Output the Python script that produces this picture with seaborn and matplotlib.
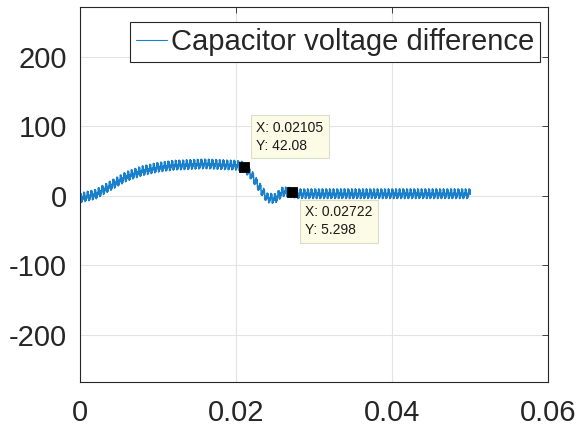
import numpy as np
import pandas as pd
import matplotlib
matplotlib.use("Agg")
import matplotlib.pyplot as plt
import seaborn as sns

# slow trend of the capacitor voltage difference
trend_t = [0.000, 0.002, 0.004, 0.006, 0.008, 0.010, 0.012, 0.014, 0.016, 0.018,
           0.020, 0.021, 0.022, 0.023, 0.024, 0.025, 0.026, 0.027, 0.028, 0.030,
           0.035, 0.040, 0.045, 0.050]
trend_v = [-3, 2, 15, 28, 36, 41, 44, 45, 46, 45,
           44, 42, 30, 12, -3, -4, 6, 5, 3, 3,
           3, 3, 3, 3]
# one switching-ripple cycle (period ~0.47 ms), jagged offsets
ripple_cycle = [0, 7, 2, 6, -1, -7, -2, -6, 1, -3]
ripple_period = 0.00047

# data tips
tip_x = [0.02105, 0.02722]
tip_y = [42.08, 5.298]
tip_labels = ["X: 0.02105\nY: 42.08", "X: 0.02722\nY: 5.298"]

series_name = "Capacitor voltage difference"
x_ticks = [0, 0.02, 0.04, 0.06]
x_ticklabels = ["0", "0.02", "0.04", "0.06"]
y_ticks = [-200, -100, 0, 100, 200]

# build the dense sampled waveform
dt = ripple_period / len(ripple_cycle)
t = np.arange(0, 0.05 + dt / 2, dt)
base = np.interp(t, trend_t, trend_v)
rip = np.resize(np.array(ripple_cycle, dtype=float), len(t))
df = pd.DataFrame({"t": t, "v": base + rip})

sns.set_style("white")
plt.rcParams["font.family"] = ["Liberation Sans", "DejaVu Sans"]
plt.rcParams["axes.unicode_minus"] = False

fig = plt.figure(figsize=(5.82, 4.32), dpi=100)
ax = fig.add_axes([0.137, 0.116, 0.805, 0.868])

line_color = "#1a80cc"
sns.lineplot(data=df, x="t", y="v", ax=ax, color=line_color, linewidth=1.1,
             label=series_name, estimator=None, sort=False)

ax.set_xlim(0, 0.06)
ax.set_ylim(-268, 272)
ax.set_xticks(x_ticks)
ax.set_xticklabels(x_ticklabels)
ax.set_yticks(y_ticks)
ax.set_xlabel("")
ax.set_ylabel("")
ax.grid(True, color="#e3e3e3", linewidth=0.8)
ax.set_axisbelow(True)
for s in ax.spines.values():
    s.set_color("#262626")
    s.set_linewidth(0.8)
    s.set_visible(True)
ax.tick_params(axis="both", direction="in", length=4, width=0.6, color="#262626",
               labelsize=21, labelcolor="#262626", top=True, right=True)
ax.tick_params(axis="x", pad=12)
ax.tick_params(axis="y", pad=9)

leg = ax.legend(loc="upper right", bbox_to_anchor=(540 / 582, 1 - 22 / 432),
                bbox_transform=fig.transFigure, fontsize=21, frameon=True,
                fancybox=False, framealpha=1, edgecolor="#262626",
                handlelength=1.05, handletextpad=0.15, borderpad=0.2,
                borderaxespad=0)
leg.get_frame().set_linewidth(0.8)
for h in leg.get_lines():
    h.set_linewidth(0.8)

# data tip markers and boxes
sns.scatterplot(x=tip_x, y=tip_y, ax=ax, marker="s", s=55, color="black",
                edgecolor="black", zorder=5, legend=False)
offsets = [((12, 14), "left", "bottom"), ((13, -13), "left", "top")]
for (xx, yy, lab, (off, ha, va)) in zip(tip_x, tip_y, tip_labels, offsets):
    ax.annotate(lab, xy=(xx, yy), xytext=off, textcoords="offset pixels",
                ha=ha, va=va, fontsize=10, color="#1a1a1a", linespacing=1.35,
                bbox=dict(boxstyle="square,pad=0.4", facecolor="#fcfce6",
                          edgecolor="#dcdccc", linewidth=0.8), zorder=6)

fig.savefig("out.png", dpi=100)
